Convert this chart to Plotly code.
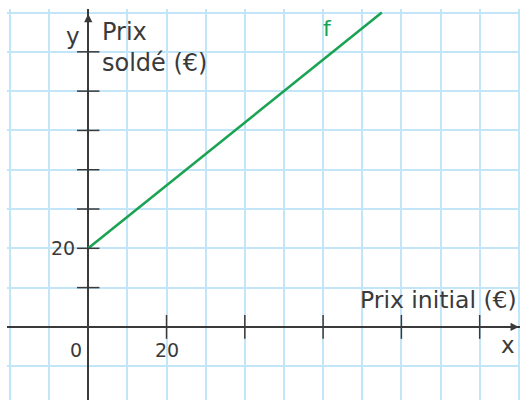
import plotly.graph_objects as go

# Line f: sale price as a function of initial price
f_x = [0, 75]
f_y = [20, 80]

# Graduations on the axes
x_ticks = [20, 40, 60, 80, 100]
y_ticks = [10, 20, 30, 40, 50, 60, 70]

# Numeric labels written next to the axes
x_labels = ["0", "20"]
x_label_pos = [0, 20]
y_labels = ["20"]
y_label_pos = [20]

INK = "#3a3a3a"
GREEN = "#1aa352"
GRID = "#c2e6f8"
FONT = "DejaVu Sans"

fig = go.Figure()

fig.add_trace(go.Scatter(
    x=f_x, y=f_y, mode="lines",
    line=dict(color=GREEN, width=2.6),
    hoverinfo="skip", showlegend=False,
))

# tick marks crossing each axis
fig.add_trace(go.Scatter(
    x=[0] * len(y_ticks), y=y_ticks, mode="markers",
    marker=dict(symbol="line-ew", size=16, line=dict(color=INK, width=1.5)),
    hoverinfo="skip", showlegend=False,
))
fig.add_trace(go.Scatter(
    x=x_ticks, y=[0] * len(x_ticks), mode="markers",
    marker=dict(symbol="line-ns", size=17, line=dict(color=INK, width=1.5)),
    hoverinfo="skip", showlegend=False,
))

ann = []
# axis arrowheads
ann.append(dict(x=110.0, y=0, ax=106.5, ay=0, xref="x", yref="y", axref="x", ayref="y",
                showarrow=True, arrowhead=2, arrowsize=1.1, arrowwidth=1.5,
                arrowcolor=INK, text=""))
ann.append(dict(x=0, y=79.6, ax=0, ay=76.0, xref="x", yref="y", axref="x", ayref="y",
                showarrow=True, arrowhead=2, arrowsize=1.1, arrowwidth=1.5,
                arrowcolor=INK, text=""))

for t, p in zip(x_labels, x_label_pos):
    ann.append(dict(x=p if p else -3, y=-6, xref="x", yref="y", text=t, showarrow=False,
                    xanchor="center", yanchor="middle",
                    font=dict(family=FONT, size=19, color=INK)))
for t, p in zip(y_labels, y_label_pos):
    ann.append(dict(x=-2.9, y=p, xref="x", yref="y", text=t, showarrow=False,
                    xanchor="right", yanchor="middle",
                    font=dict(family=FONT, size=19, color=INK)))

# axis names
ann.append(dict(x=-4.0, y=74.0, xref="x", yref="y", text="y", showarrow=False,
                xanchor="center", yanchor="middle",
                font=dict(family=FONT, size=23, color=INK)))
ann.append(dict(x=3.0, y=71.2, xref="x", yref="y", text="Prix<br>soldé (€)",
                showarrow=False, xanchor="left", yanchor="middle", align="left",
                font=dict(family=FONT, size=24, color=INK)))
ann.append(dict(x=110.0, y=6.9, xref="x", yref="y", text="Prix initial (€)",
                showarrow=False, xanchor="right", yanchor="middle",
                font=dict(family=FONT, size=23.5, color=INK)))
ann.append(dict(x=107.3, y=-4.7, xref="x", yref="y", text="x",
                showarrow=False, xanchor="center", yanchor="middle",
                font=dict(family=FONT, size=23, color=INK)))
ann.append(dict(x=61.0, y=76.0, xref="x", yref="y", text="f",
                showarrow=False, xanchor="center", yanchor="middle",
                font=dict(family=FONT, size=22, color=GREEN)))

fig.update_layout(
    width=520, height=400,
    margin=dict(l=7, r=0, t=9, b=0),
    paper_bgcolor="white", plot_bgcolor="white",
    annotations=ann,
    # white band above the top grid line and left of the first column
    shapes=[
        dict(type="rect", xref="paper", yref="y", x0=0, x1=1, y0=80.3, y1=90,
             fillcolor="white", line=dict(width=0), layer="between"),
        dict(type="rect", xref="x", yref="paper", x0=-30, x1=-20.3, y0=0, y1=1,
             fillcolor="white", line=dict(width=0), layer="between"),
    ],
    xaxis=dict(range=[-20.75, 110.3], dtick=10, tick0=0, showgrid=True,
               gridcolor=GRID, gridwidth=2, showticklabels=False, ticks="",
               zeroline=True, zerolinecolor=INK, zerolinewidth=1.6,
               showline=False, fixedrange=True),
    yaxis=dict(range=[-18.6, 80.9], dtick=10, tick0=0, showgrid=True,
               gridcolor=GRID, gridwidth=2, showticklabels=False, ticks="",
               zeroline=True, zerolinecolor=INK, zerolinewidth=1.6,
               showline=False, fixedrange=True),
)

fig.write_html("out.html")
